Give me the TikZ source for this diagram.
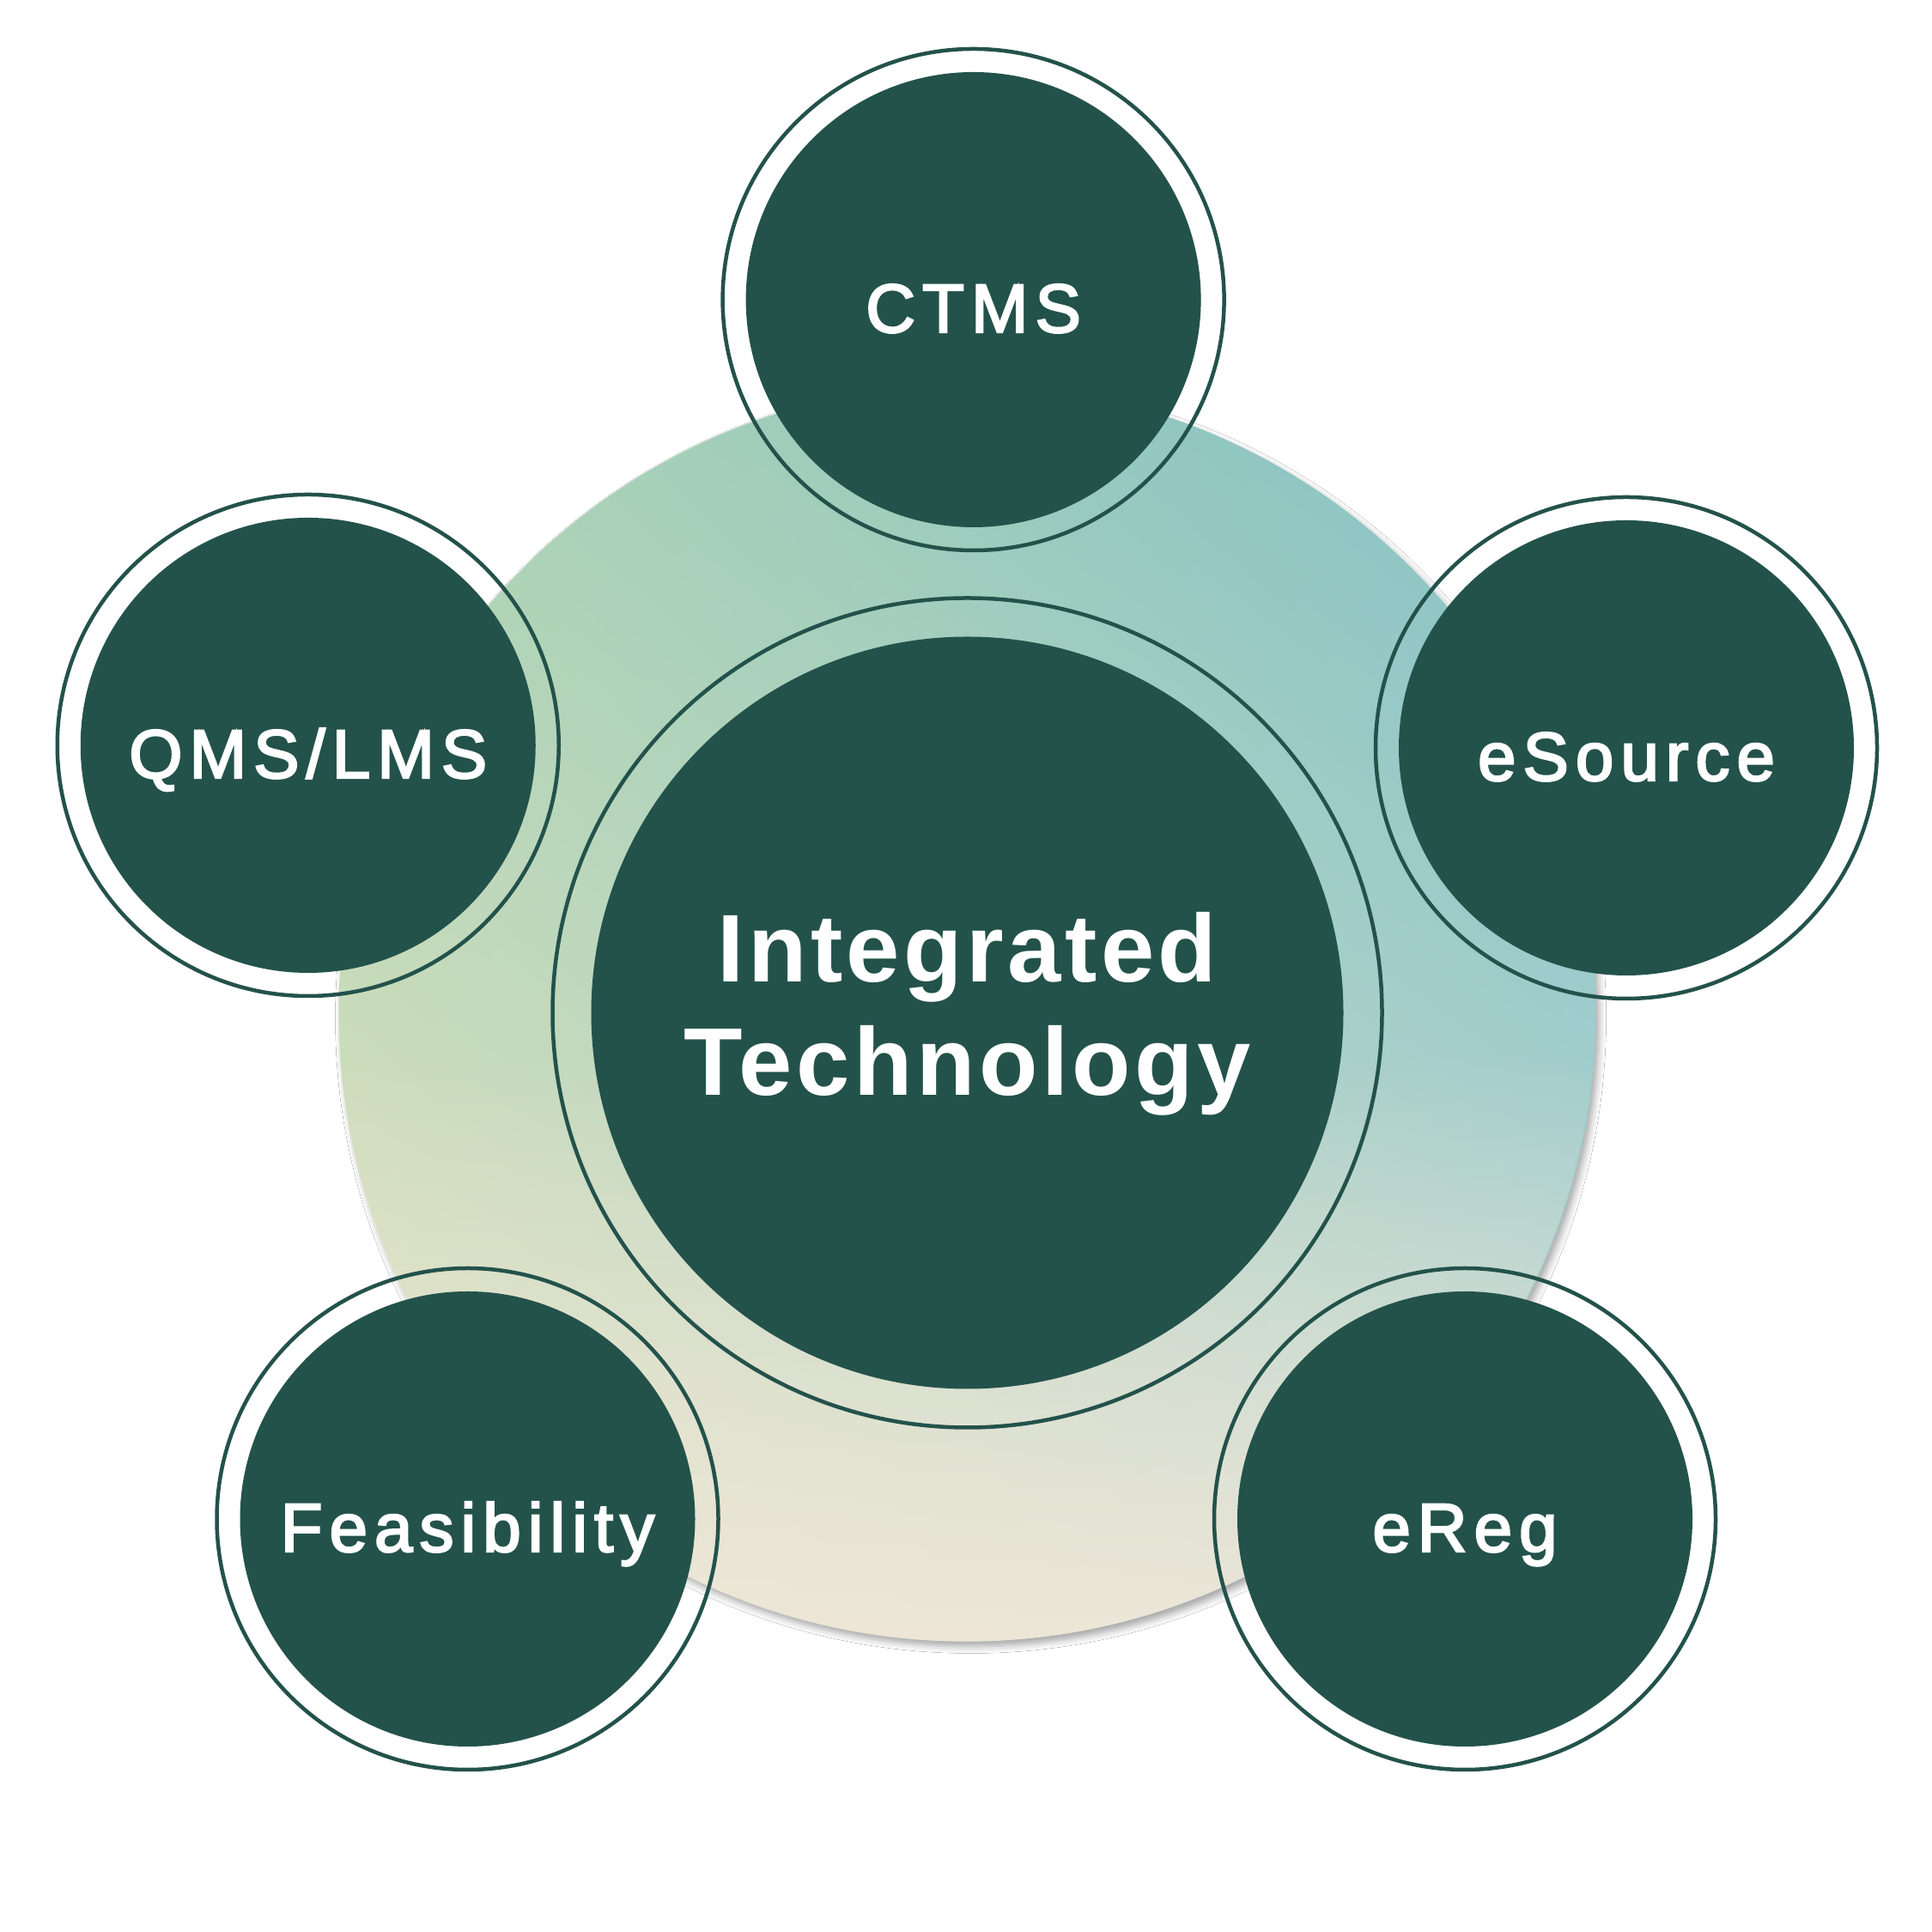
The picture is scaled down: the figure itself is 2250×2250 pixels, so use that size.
\documentclass[tikz,border=0pt]{standalone}
\usepackage{fontspec}
\setmainfont{Liberation Sans}
\newfontfamily\satfont[LetterSpace=10,FakeBold=3]{Liberation Sans}
\newfontfamily\centfont[LetterSpace=4]{Liberation Sans}
\usetikzlibrary{shadows.blur,fadings,shadings}
\definecolor{dkgreen}{HTML}{23524B}
\definecolor{gUL}{HTML}{ACD3B2}
\definecolor{gUR}{HTML}{82C0C6}
\definecolor{gLL}{HTML}{E6E4C2}
\definecolor{gLR}{HTML}{BAD7D2}
\definecolor{beige}{HTML}{F2E8DA}
\begin{tikzfadingfrompicture}[name=beigefade]
  \fill[transparent!100] (-1,-0.05) rectangle (1,1);
  \shade[top color=transparent!100, bottom color=transparent!0] (-1,-1) rectangle (1,-0.05);
\end{tikzfadingfrompicture}
\tikzset{
  satfill/.style={circle, fill=dkgreen, minimum size=530pt, inner sep=0pt, outer sep=0pt},
  satring/.style={circle, draw=dkgreen, line width=4.5pt, minimum size=584pt, inner sep=0pt, outer sep=0pt},
  satlbl/.style={text=white, anchor=base, inner sep=0pt, font=\satfont\fontsize{80}{96}\selectfont},
  centlbl/.style={text=white, anchor=base, inner sep=0pt, font=\centfont\bfseries\fontsize{112}{132}\selectfont},
}
\begin{document}
\begin{tikzpicture}[x=1pt,y=1pt]
\fill[white] (0,0) rectangle (2250,2250);
\useasboundingbox (0,0) rectangle (2250,2250);
% background gradient disc
\node[circle, minimum size=1464pt, inner sep=0pt, outer sep=0pt,
      upper left=gUL, upper right=gUR, lower left=gLL, lower right=gLR,
      blur shadow={shadow xshift=4pt, shadow yshift=-6pt, shadow blur radius=8pt, shadow opacity=35}]
      (bg) at (1126.5,1070.5) {};
\fill[beige, path fading=beigefade, fit fading=true] (bg.center) circle[radius=732];
% central circle
\node[circle, fill=dkgreen, minimum size=876pt, inner sep=0pt, outer sep=0pt] (central) at (1126.5,1070.5) {};
\node[circle, draw=dkgreen, line width=4.5pt, minimum size=966pt, inner sep=0pt, outer sep=0pt] (centralring) at (central.center) {};
\node[centlbl] (t1) at ([yshift=35.5pt]central.center) {Integrated};
\node[centlbl] (t2) at ([yshift=-96.5pt]central.center) {Technology};
% satellites
\node[satfill] (ctms) at (1133.6,1901) {};
\node[satring] (ctmsring) at (ctms.center) {};
\node[satlbl] (ctmslbl) at ([yshift=-38pt]ctms.center) {CTMS};

\node[satfill] (qms) at (358.75,1382) {};
\node[satring] (qmsring) at (qms.center) {};
\node[satlbl] (qmslbl) at ([yshift=-38pt]qms.center) {QMS/LMS};

\node[satfill] (esrc) at (1894,1379) {};
\node[satring] (esrcring) at (esrc.center) {};
\node[satlbl] (esrclbl) at ([yshift=-38pt]esrc.center) {eSource};

\node[satfill] (feas) at (544.5,481) {};
\node[satring] (feasring) at (feas.center) {};
\node[satlbl] (feaslbl) at ([yshift=-38pt]feas.center) {Feasibility};

\node[satfill] (ereg) at (1706,481) {};
\node[satring] (eregring) at (ereg.center) {};
\node[satlbl] (ereglbl) at ([yshift=-38pt]ereg.center) {eReg};
\end{tikzpicture}
\end{document}
